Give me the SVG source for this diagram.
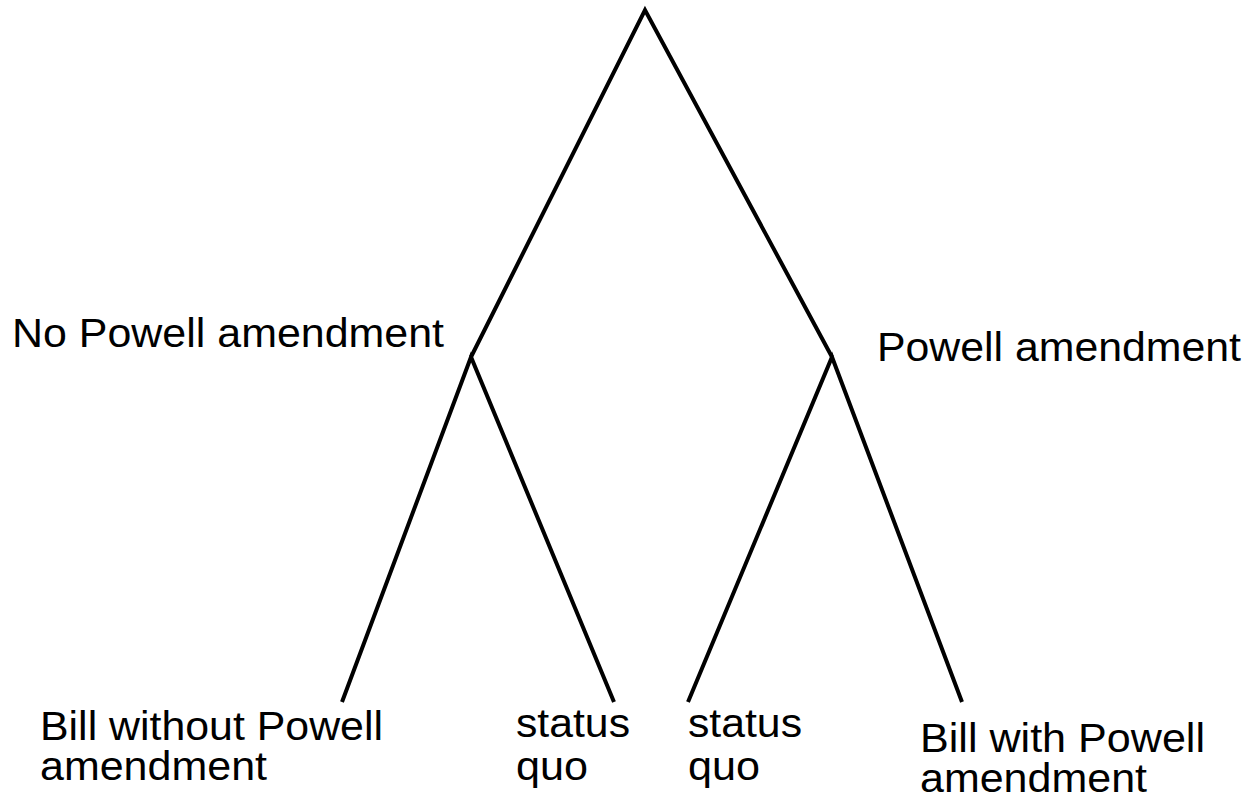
<svg xmlns="http://www.w3.org/2000/svg" width="1259" height="800" viewBox="0 0 1259 800">
  <style>
    .edge { stroke: #000; stroke-width: 4; fill: none; stroke-linecap: butt; stroke-linejoin: miter; }
    .lbl { font-family: "Liberation Sans", Arial, sans-serif; font-size: 40px; fill: #000; }
  </style>
  <rect width="1259" height="800" fill="#fff"/>
  <g id="connectors">
    <polyline class="edge" points="471,357 645,10 832,357"/>
    <polyline class="edge" points="342,702 471,357 614,702"/>
    <polyline class="edge" points="688,702 832,357 962,702"/>
  </g>
  <g id="node-no-powell">
    <text class="lbl" x="12" y="347" textLength="432" lengthAdjust="spacingAndGlyphs">No Powell amendment</text>
  </g>
  <g id="node-powell">
    <text class="lbl" x="877" y="361" textLength="364" lengthAdjust="spacingAndGlyphs">Powell amendment</text>
  </g>
  <g id="leaf-bill-without">
    <text class="lbl" x="40" y="740" textLength="343" lengthAdjust="spacingAndGlyphs">Bill without Powell</text>
    <text class="lbl" x="40" y="780" textLength="227" lengthAdjust="spacingAndGlyphs">amendment</text>
  </g>
  <g id="leaf-status-quo-left">
    <text class="lbl" x="516" y="737" textLength="114" lengthAdjust="spacingAndGlyphs">status</text>
    <text class="lbl" x="516" y="780" textLength="72" lengthAdjust="spacingAndGlyphs">quo</text>
  </g>
  <g id="leaf-status-quo-right">
    <text class="lbl" x="688" y="737" textLength="114" lengthAdjust="spacingAndGlyphs">status</text>
    <text class="lbl" x="688" y="780" textLength="72" lengthAdjust="spacingAndGlyphs">quo</text>
  </g>
  <g id="leaf-bill-with">
    <text class="lbl" x="920" y="752" textLength="285" lengthAdjust="spacingAndGlyphs">Bill with Powell</text>
    <text class="lbl" x="920" y="792" textLength="227" lengthAdjust="spacingAndGlyphs">amendment</text>
  </g>
</svg>
